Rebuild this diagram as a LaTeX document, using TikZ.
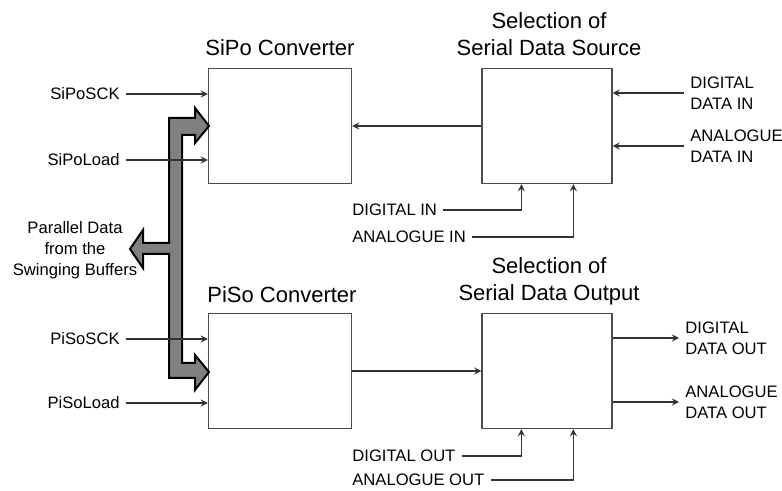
\documentclass[tikz,border=0pt]{standalone}
\usepackage{fontspec}
\setmainfont{Liberation Sans}
\usetikzlibrary{positioning}

\begin{document}
\begin{tikzpicture}[x=0.5pt, y=-0.5pt,
    box/.style={draw=black!70, rectangle, minimum width=71.5pt, minimum height=57.5pt, line width=0.6pt},
    selbox/.style={box, minimum width=65pt},
    title/.style={align=center, font=\fontsize{11}{13.5}\selectfont},
    lbl/.style={align=left, inner sep=3pt, font=\fontsize{8.3}{10.5}\selectfont},
    arrow/.style={->, >=stealth, line width=0.6pt, draw=black!80},
    bus/.style={draw=black, line width=1pt, fill=black!50}
]
    \useasboundingbox (0,0) rectangle (782,491);

    % blocks
    \node (sipo) [box] at (280,126) {};
    \node (piso) [box] at (280,371) {};
    \node (src) [selbox] at (547,126) {};
    \node (out) [selbox] at (547,371) {};

    \node (sipoT) [title] at (280,48) {SiPo Converter};
    \node (pisoT) [title] at (282,295) {PiSo Converter};
    \node (srcT) [title] at (549,34) {Selection of\\Serial Data Source};
    \node (outT) [title] at (549,281) {Selection of\\Serial Data Output};

    % left side signals
    \node (sipoSCK) [lbl, anchor=east] at (126,94) {SiPoSCK};
    \node (sipoLoad) [lbl, anchor=east] at (126,160) {SiPoLoad};
    \node (pisoSCK) [lbl, anchor=east] at (126,339) {PiSoSCK};
    \node (pisoLoad) [lbl, anchor=east] at (126,403) {PiSoLoad};
    \node (pdata) [lbl, align=center] at (75,250) {Parallel Data\\from the\\Swinging Buffers};

    % right side signals
    \node (dgin) [lbl, anchor=west] at (684,93) {DIGITAL\\DATA IN};
    \node (anin) [lbl, anchor=west] at (684,146) {ANALOGUE\\DATA IN};
    \node (dgout) [lbl, anchor=west] at (679,338) {DIGITAL\\DATA OUT};
    \node (anout) [lbl, anchor=west] at (679,402) {ANALOGUE\\DATA OUT};

    % bottom signals
    \node (selDin) [lbl, anchor=west] at (346,210) {DIGITAL IN};
    \node (selAin) [lbl, anchor=west] at (346,237) {ANALOGUE IN};
    \node (selDout) [lbl, anchor=west] at (346,456) {DIGITAL OUT};
    \node (selAout) [lbl, anchor=west] at (346,480) {ANALOGUE OUT};

    % parallel data bus
    \draw [bus] (169,118) -- (195,118) -- (195,108) -- (209,126) -- (195,143) -- (195,135)
        -- (182,135) -- (182,363) -- (195,363) -- (195,355) -- (209,372) -- (195,390)
        -- (195,378) -- (169,378) -- (169,254) -- (143,254) -- (143,268) -- (130,249)
        -- (143,230) -- (143,243) -- (169,243) -- cycle;

    \path [arrow] (sipoSCK.east) -- (sipoSCK.east -| sipo.west);
    \path [arrow] (sipoLoad.east) -- (sipoLoad.east -| sipo.west);
    \path [arrow] (pisoSCK.east) -- (pisoSCK.east -| piso.west);
    \path [arrow] (pisoLoad.east) -- (pisoLoad.east -| piso.west);

    \path [arrow] (src.west) -- (src.west -| sipo.east);
    \path [arrow] (piso.east) -- (out.west);

    \path [arrow] (dgin.west) -- (dgin.west -| src.east);
    \path [arrow] (anin.west) -- (anin.west -| src.east);
    \path [arrow] (dgout.west -| out.east) -- (dgout.west);
    \path [arrow] (anout.west -| out.east) -- (anout.west);

    \path [arrow] (selDin.east) -| ([xshift=20pt]src.south west);
    \path [arrow] (selAin.east) -| ([xshift=46pt]src.south west);
    \path [arrow] (selDout.east) -| ([xshift=20pt]out.south west);
    \path [arrow] (selAout.east) -| ([xshift=46pt]out.south west);
\end{tikzpicture}
\end{document}
